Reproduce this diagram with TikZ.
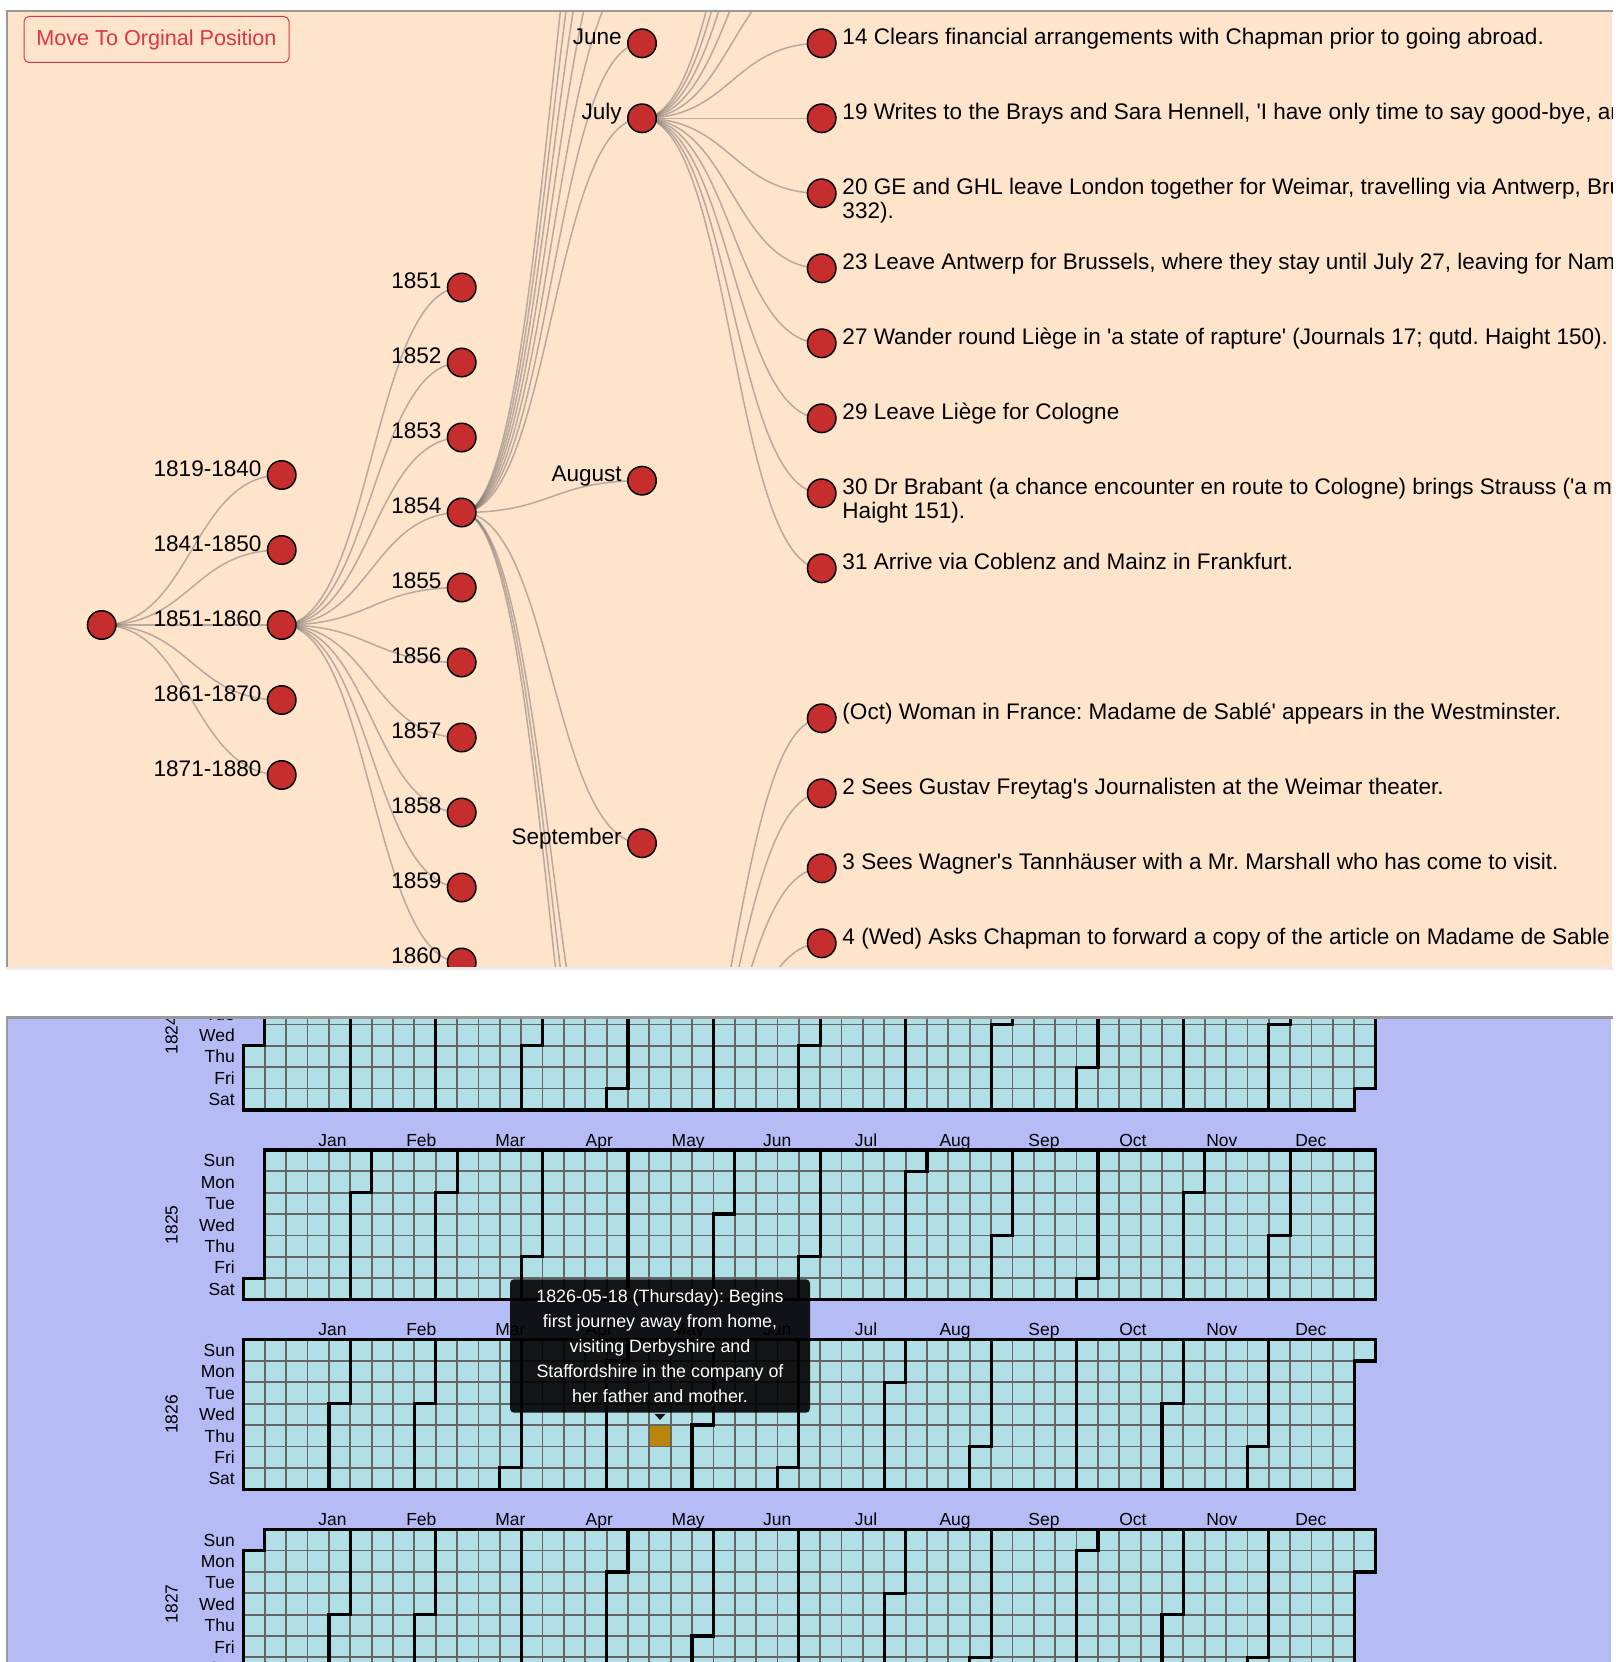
\documentclass[tikz,border=0pt]{standalone}
\usepackage{fontspec}
\setmainfont{Liberation Sans}
\usetikzlibrary{calc}
\pgfdeclarelayer{back}
\pgfdeclarelayer{links}
\pgfsetlayers{back,links,main}
\definecolor{peach}{HTML}{FFE4CC}
\definecolor{lav}{HTML}{B5BBF5}
\definecolor{pblue}{HTML}{B0E0E6}
\definecolor{gridg}{HTML}{666666}
\definecolor{nred}{HTML}{C62E2E}
\definecolor{btnred}{HTML}{DC3545}
\definecolor{bord}{HTML}{999999}
\definecolor{hlgold}{HTML}{B8860B}
\definecolor{linkc}{HTML}{555555}
\newcommand\sq{\textquotesingle}
\newcommand\hlink[2]{\draw[tlink] let \p1=(#1.center), \p2=(#2.center) in (\p1) .. controls ({0.5*\x1+0.5*\x2},\y1) and ({0.5*\x1+0.5*\x2},\y2) .. (\p2);}
\tikzset{
  tnode/.style={circle, draw=black, line width=1.125pt, fill=nred, minimum size=21.375pt, inner sep=0pt},
  tlbl/.style={font=\fontsize{16.9}{20}\selectfont, inner sep=0pt, anchor=base east},
  evt/.style={font=\fontsize{16.9}{20}\selectfont, inner sep=0pt, anchor=base west},
  tlink/.style={draw=linkc, draw opacity=0.4, line width=1.15pt},
  cell/.style={fill=pblue, draw=gridg, line width=1.35pt},
  mline/.style={draw=black, line width=2.4pt},
  clbl/.style={font=\fontsize{13.1}{15}\selectfont, inner sep=0pt},
  btn/.style={draw=btnred, line width=0.75pt, rounded corners=3.75pt, minimum width=198.75pt, minimum height=34.5pt, inner sep=0pt, text=btnred, font=\fontsize{16.2}{18}\selectfont},
  tip/.style={fill=black, fill opacity=0.9, text opacity=1, text=white, rounded corners=3pt, align=center, minimum width=225pt, minimum height=100pt, inner sep=0pt, font=\fontsize{13.4}{18.9}\selectfont}
}
\begin{document}
\frenchspacing
\begin{tikzpicture}[x=0.75pt,y=-0.75pt]
\useasboundingbox (0,0) rectangle (1622,1662);
\begin{pgfonlayer}{back}
\fill[white] (0,0) rectangle (1622,1662);
\fill[peach] (8,12) rectangle (1612,967);
\fill[lav] (8,1019) rectangle (1611,1662);
\end{pgfonlayer}

% ---------------- top panel ----------------
\begin{scope}
\clip (8,12) rectangle (1612,967);
\node[btn] (btn) at (156.5,39.5) {Move To Orginal Position};
\node[tnode] (root) at (101.7,625) {};
\foreach \nm/\yy/\tx in {d1/475/1819-1840, d2/550/1841-1850, d3/625/1851-1860, d4/700/1861-1870, d5/775/1871-1880}{
  \node[tnode] (\nm) at (281.7,\yy) {};
  \node[tlbl] (\nm-l) at ($(\nm)+(-20,1)$) {\tx};
}
\foreach \k in {0,...,9}{
  \pgfmathtruncatemacro\yv{1851+\k}
  \node[tnode] (y\yv) at (461.7,{287.5+75*\k}) {};
  \node[tlbl] (y\yv-l) at ($(y\yv)+(-20,1)$) {\yv};
}
\foreach \nm/\yy in {mJan/-331.7, mFeb/-256.7, mMar/-181.7, mApr/-106.7, mMay/-31.7, mOct/1205.8, mNov/1280.8, mDec/1355.8}{
  \coordinate (\nm) at (642,\yy);
}
\foreach \nm/\yy/\tx in {mJun/43.3/June, mJul/118.3/July, mAug/480.7/August, mSep/843.2/September}{
  \node[tnode] (\nm) at (642,\yy) {};
  \node[tlbl] (\nm-l) at ($(\nm)+(-20,1)$) {\tx};
}
\foreach \i in {1,...,5}{
  \coordinate (j\i) at (821.7,{-331.7+75*(\i-1)});
}
\foreach \nm/\yy in {e14/43.3, e19/118.3, e20/193.3, e23/268.3, e27/343.3, e29/418.3, e30/493.3, e31/568.3, o1/718.3, o2/793.3, o3/868.3, o4/943.3}{
  \node[tnode] (\nm) at (821.7,\yy) {};
}
\node[evt] (e14-t) at ($(e14)+(20.5,1)$) {14 Clears financial arrangements with Chapman prior to going abroad.};
\node[evt] (e19-t) at ($(e19)+(20.5,1)$) {19 Writes to the Brays and Sara Hennell, \sq I have only time to say good-bye, an};
\node[evt] (e20-t) at ($(e20)+(20.5,1)$) {20 GE and GHL leave London together for Weimar, travelling via Antwerp, Bru};
\node[evt] (e20-t2) at ($(e20)+(20.5,25.5)$) {332).};
\node[evt] (e23-t) at ($(e23)+(20.5,1)$) {23 Leave Antwerp for Brussels, where they stay until July 27, leaving for Nam};
\node[evt] (e27-t) at ($(e27)+(20.5,1)$) {27 Wander round Liège in \sq a state of rapture\sq{} (Journals 17; qutd. Haight 150).};
\node[evt] (e29-t) at ($(e29)+(20.5,1)$) {29 Leave Liège for Cologne};
\node[evt] (e30-t) at ($(e30)+(20.5,1)$) {30 Dr Brabant (a chance encounter en route to Cologne) brings Strauss (\sq a m};
\node[evt] (e30-t2) at ($(e30)+(20.5,25.5)$) {Haight 151).};
\node[evt] (e31-t) at ($(e31)+(20.5,1)$) {31 Arrive via Coblenz and Mainz in Frankfurt.};
\node[evt] (o1-t) at ($(o1)+(20.5,1)$) {(Oct) Woman in France: Madame de Sablé\sq{} appears in the Westminster.};
\node[evt] (o2-t) at ($(o2)+(20.5,1)$) {2 Sees Gustav Freytag\sq s Journalisten at the Weimar theater.};
\node[evt] (o3-t) at ($(o3)+(20.5,1)$) {3 Sees Wagner\sq s Tannhäuser with a Mr. Marshall who has come to visit.};
\node[evt] (o4-t) at ($(o4)+(20.5,1)$) {4 (Wed) Asks Chapman to forward a copy of the article on Madame de Sable};
\end{scope}

\begin{pgfonlayer}{links}
\begin{scope}
\clip (8,12) rectangle (1612,967);
\foreach \a/\b in {root/d1, root/d2, root/d3, root/d4, root/d5,
  d3/y1851, d3/y1852, d3/y1853, d3/y1854, d3/y1855, d3/y1856, d3/y1857, d3/y1858, d3/y1859, d3/y1860,
  y1854/mJan, y1854/mFeb, y1854/mMar, y1854/mApr, y1854/mMay, y1854/mJun, y1854/mJul, y1854/mAug, y1854/mSep, y1854/mOct, y1854/mNov, y1854/mDec,
  mJul/j1, mJul/j2, mJul/j3, mJul/j4, mJul/j5, mJul/e14, mJul/e19, mJul/e20, mJul/e23, mJul/e27, mJul/e29, mJul/e30, mJul/e31,
  mOct/o1, mOct/o2, mOct/o3, mOct/o4}{\hlink{\a}{\b}}
\end{scope}
\end{pgfonlayer}

% ---------------- calendar panel ----------------
\begin{scope}
\clip (8,1019) rectangle (1611,1662);
\foreach \yr/\yd/\lp in {1824/4/1, 1825/6/0, 1826/0/0, 1827/1/0}{
  \pgfmathsetmacro\yT{1150+189.6*(\yr-1825)}
  \pgfmathtruncatemacro\yP{364+\lp+\yd}
  \pgfmathtruncatemacro\yW{floor(\yP/7)}
  \pgfmathtruncatemacro\yR{mod(\yP,7)}
  \begin{scope}[shift={(243.5,\yT)},x=16.02pt,y=-16.02pt]
    \foreach \rr in {0,...,6}{
      \pgfmathtruncatemacro\cA{\rr<\yd ? 1 : 0}
      \pgfmathtruncatemacro\cB{\rr<=\yR ? \yW : \yW-1}
      \foreach \cc in {\cA,...,\cB}{\draw[cell] (\cc,\rr) rectangle ++(1,1);}
    }
    \foreach \ms/\me in {0/30,31/58,59/89,90/119,120/150,151/180,181/211,212/242,243/272,273/303,304/333,334/364}{
      \pgfmathtruncatemacro\sA{\ms+(\ms>50)*\lp}
      \pgfmathtruncatemacro\eA{\me+(\me>50)*\lp}
      \pgfmathtruncatemacro\wA{floor((\sA+\yd)/7)}
      \pgfmathtruncatemacro\dA{mod(\sA+\yd,7)}
      \pgfmathtruncatemacro\wB{floor((\eA+\yd)/7)}
      \pgfmathtruncatemacro\dB{mod(\eA+\yd,7)}
      \draw[mline] (\wA+1,\dA) -- (\wA,\dA) -- (\wA,7) -- (\wB,7) -- (\wB,\dB+1) -- (\wB+1,\dB+1) -- (\wB+1,0) -- (\wA+1,0) -- cycle;
    }
  \end{scope}
  \foreach \dn [count=\i from 0] in {Sun,Mon,Tue,Wed,Thu,Fri,Sat}{
    \node[clbl,anchor=base east] (dl-\yr-\i) at (235,{\yT+(\i+0.5)*21.36+6.3}) {\dn};
  }
  \foreach \mn [count=\i from 0] in {Jan,Feb,Mar,Apr,May,Jun,Jul,Aug,Sep,Oct,Nov,Dec}{
    \node[clbl,anchor=base] (ml-\yr-\i) at ({332.4+88.95*\i},{\yT-4}) {\mn};
  }
  \node[clbl,anchor=base,rotate=90] (yl-\yr) at (177.5,{\yT+74.76}) {\yr};
}
\begin{scope}[shift={(243.5,1339.6)},x=16.02pt,y=-16.02pt]
  \draw[cell,fill=hlgold] (19,4) rectangle ++(1,1);
\end{scope}
\node[tip] (tip) at (660,1346) {1826-05-18 (Thursday): Begins\\first journey away from home,\\visiting Derbyshire and\\Staffordshire in the company of\\her father and mother.};
\fill[black,fill opacity=0.9] ($(tip.south)+(-5.5,1)$) -- ($(tip.south)+(5.5,1)$) -- ($(tip.south)+(0,7)$) -- cycle;
\end{scope}

% ---------------- borders ----------------
\fill[bord] (6,10) rectangle (1613,12.3);
\fill[bord] (6,10) rectangle (8.3,967);
\fill[black!8] (6,967) rectangle (1613,970);
\fill[bord] (6,1016) rectangle (1613,1019);
\fill[bord] (6,1016) rectangle (8.3,1662);
\end{tikzpicture}
\end{document}
